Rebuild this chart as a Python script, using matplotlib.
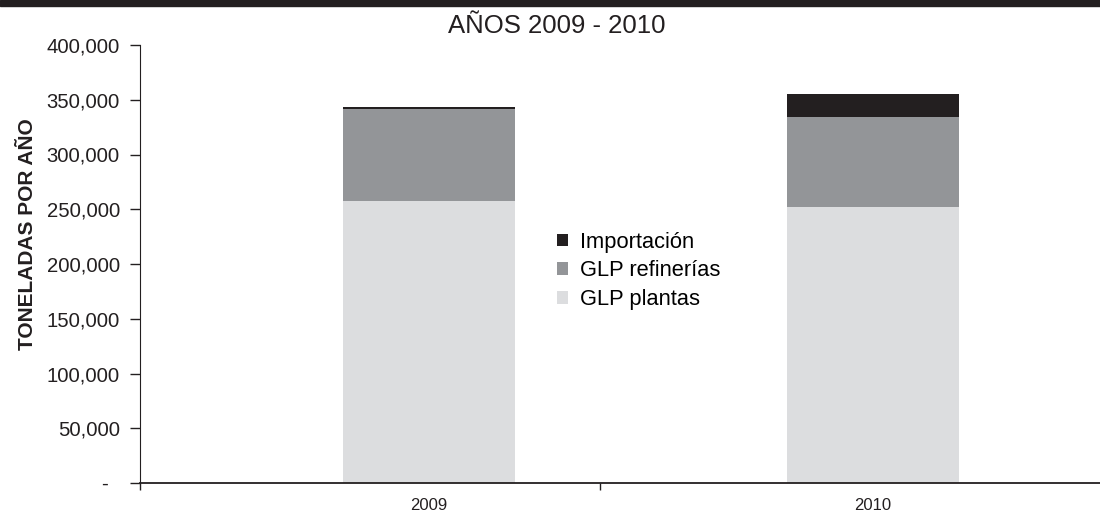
import numpy as np
import matplotlib.pyplot as plt
from matplotlib.patches import Rectangle
from matplotlib.ticker import FuncFormatter

plt.rcParams['font.family'] = ['Liberation Sans', 'DejaVu Sans']

years = ['2009', '2010']
glp_plantas = [257500, 251800]
glp_refinerias = [84000, 82200]
importacion = [2000, 21500]

c_plantas = '#dcdddf'
c_ref = '#939598'
c_imp = '#231f20'

fig = plt.figure(figsize=(11, 5.14), dpi=100)
ax = fig.add_axes([140/1100, 31/514, 960/1100, 438/514])

x = np.arange(len(years))
w = 0.387
b1 = ax.bar(x, glp_plantas, w, color=c_plantas, label='GLP plantas')
b2 = ax.bar(x, glp_refinerias, w, bottom=glp_plantas, color=c_ref, label='GLP refinerías')
bot2 = np.array(glp_plantas) + np.array(glp_refinerias)
b3 = ax.bar(x, importacion, w, bottom=bot2, color=c_imp, label='Importación')

ax.set_xlim(-0.651, 1.511)
ax.set_ylim(0, 400000)
ax.set_yticks(np.arange(0, 400001, 50000))
# accounting-style zero: dash with trailing space
ax.yaxis.set_major_formatter(FuncFormatter(lambda v, p: '-  ' if v == 0 else f'{int(v):,}'))
ax.tick_params(axis='y', length=7, width=1, pad=7.5, labelsize=14.6, colors='#231f20')

ax.set_xticks(x)
ax.set_xticklabels(years)
ax.set_xticks([-0.651, 0.385], minor=True)
ax.tick_params(axis='x', which='major', length=0, pad=11, labelsize=12, colors='#231f20')
ax.tick_params(axis='x', which='minor', length=5, width=1, color='#231f20')

for s in ['top', 'right']:
    ax.spines[s].set_visible(False)
ax.spines['left'].set_color('#231f20')
ax.spines['bottom'].set_color('#231f20')
ax.spines['bottom'].set_linewidth(1.3)

ax.set_ylabel('TONELADAS POR AÑO', fontsize=15, fontweight='bold', color='#231f20')
ax.yaxis.set_label_coords(-0.107, 0.5685)

handles = [b3, b2, b1]
leg = ax.legend(handles, [h.get_label() for h in handles], loc='upper left',
                bbox_to_anchor=(0.414, 0.619), frameon=False, fontsize=15.75,
                handlelength=0.5, handleheight=0.5, handletextpad=0.55, labelspacing=0.36)

fig.text(557/1100, 1 - 26/514, 'AÑOS 2009 - 2010', ha='center', va='center', fontsize=18.5, color='#231f20')
fig.patches.append(Rectangle((0, 1 - 6/514), 1, 6/514, transform=fig.transFigure, color='#231f20', zorder=5))

fig.savefig('out.png', dpi=100)
